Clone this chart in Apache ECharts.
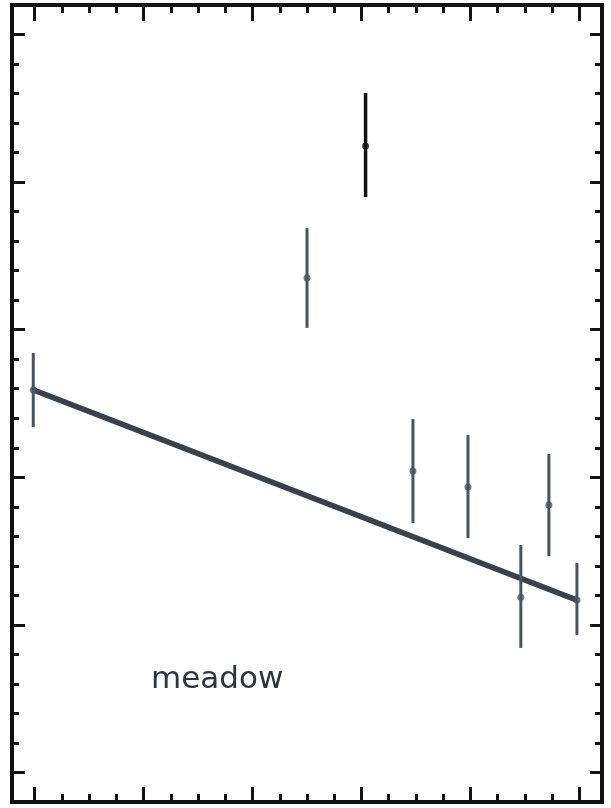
<!DOCTYPE html>
<html>
<head>
<meta charset="utf-8">
<script src="https://cdn.jsdelivr.net/npm/echarts@6/dist/echarts.min.js"></script>
<style>
html,body{margin:0;padding:0;background:#fff;}
#c{width:611px;height:808px;}
</style>
</head>
<body>
<div id="c"></div>
<script>
// Data (units; x majors every 4, y majors every 5)
var pointX   = [-0.05, 10.0, 12.15, 13.89, 15.91, 17.85, 18.88, 19.91];
var pointY   = [12.96, 16.75, 21.22, 10.21, 9.67, 5.94, 9.06, 5.84];
var errLow   = [11.70, 15.06, 19.49, 8.45, 7.94, 4.22, 7.33, 4.66];
var errHigh  = [14.21, 18.44, 23.02, 11.97, 11.43, 7.71, 10.79, 7.10];
var fitX     = [-0.05, 19.91];
var fitY     = [12.96, 5.84];
var xMajorTicks = [0, 4, 8, 12, 16, 20];
var xMinorTicks = [1, 2, 3, 5, 6, 7, 9, 10, 11, 13, 14, 15, 17, 18, 19];
var yMajorTicks = [0, 5, 10, 15, 20, 25];
var yMinorTicks = [1, 2, 3, 4, 6, 7, 8, 9, 11, 12, 13, 14, 16, 17, 18, 19, 21, 22, 23, 24];
var labelText = 'meadow';

var chart = echarts.init(document.getElementById('c'), null, {renderer: 'canvas'});

var X_MIN = -0.83, X_MAX = 20.83, Y_MIN = -1, Y_MAX = 26;
var ink = '#111111';

function xAx(pos, ticks, len) {
  return {
    type: 'value', position: pos, min: X_MIN, max: X_MAX, offset: 0,
    axisLine: {show: false, onZero: false},
    axisLabel: {show: false},
    splitLine: {show: false},
    axisTick: {show: true, inside: true, length: len, customValues: ticks,
      lineStyle: {color: ink, width: 3}}
  };
}
function yAx(pos, ticks, len) {
  return {
    type: 'value', position: pos, min: Y_MIN, max: Y_MAX, offset: 0,
    axisLine: {show: false, onZero: false},
    axisLabel: {show: false},
    splitLine: {show: false},
    axisTick: {show: true, inside: true, length: len, customValues: ticks,
      lineStyle: {color: ink, width: 3}}
  };
}

var errData = pointX.map(function (x, i) { return [x, errLow[i], errHigh[i], i]; });
var ptData = pointX.map(function (x, i) {
  return {value: [x, pointY[i]], itemStyle: {color: i === 2 ? '#111' : '#4a5460'}};
});

chart.setOption({
  animation: false,
  backgroundColor: '#fff',
  grid: {left: 12, right: 9, top: 5, bottom: 6, show: true, borderColor: ink, borderWidth: 4, backgroundColor: 'transparent'},
  xAxis: [xAx('bottom', xMajorTicks, 15), xAx('bottom', xMinorTicks, 8), xAx('top', xMajorTicks, 16), xAx('top', xMinorTicks, 8)],
  yAxis: [yAx('left', yMajorTicks, 13), yAx('left', yMinorTicks, 7), yAx('right', yMajorTicks, 12), yAx('right', yMinorTicks, 7)],
  series: [
    {
      type: 'line', xAxisIndex: 0, yAxisIndex: 0,
      data: fitX.map(function (x, i) { return [x, fitY[i]]; }),
      symbol: 'none',
      lineStyle: {color: '#38414c', width: 5.5},
      z: 3
    },
    {
      type: 'custom', xAxisIndex: 0, yAxisIndex: 0,
      data: errData,
      renderItem: function (params, api) {
        var lo = api.coord([api.value(0), api.value(1)]);
        var hi = api.coord([api.value(0), api.value(2)]);
        var dark = api.value(3) === 2;
        return {
          type: 'line',
          shape: {x1: lo[0], y1: lo[1], x2: hi[0], y2: hi[1]},
          style: {stroke: dark ? '#111' : '#4a5460', lineWidth: dark ? 3.5 : 3}
        };
      },
      z: 4
    },
    {
      type: 'scatter', xAxisIndex: 0, yAxisIndex: 0,
      data: ptData, symbol: 'circle', symbolSize: 7,
      z: 5
    }
  ],
  graphic: [
    {type: 'text', left: 151, top: 664,
     style: {text: labelText, font: '31px "DejaVu Sans"', fill: '#2c3540'}}
  ]
});
</script>
</body>
</html>
